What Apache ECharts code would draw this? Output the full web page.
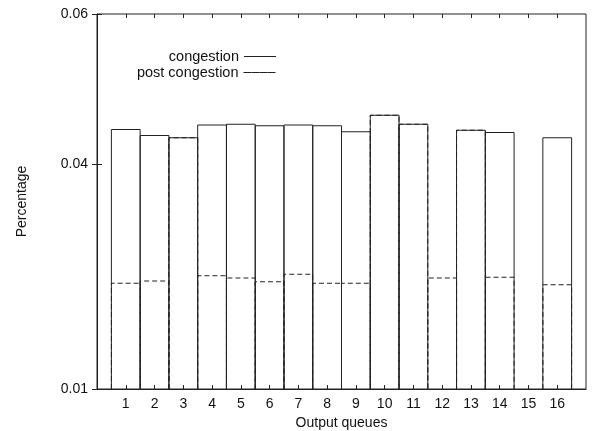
<!DOCTYPE html>
<html>
<head>
<meta charset="utf-8">
<script src="https://cdn.jsdelivr.net/npm/echarts@6/dist/echarts.min.js"></script>
<style>
    html, body { margin: 0; padding: 0; background: #fff; }
    #chart { width: 592px; height: 431px; }
</style>
</head>
<body>
<div id="chart"></div>
<script>
// === Données ===
const queues = [1, 2, 3, 4, 5, 6, 7, 8, 9, 10, 11, 12, 13, 14, 15, 16];
const congestion = [0.0446, 0.0438, 0.0435, 0.0452, 0.0453, 0.0451, 0.0452, 0.0451,
                    0.0443, 0.0465, 0.0453, null, 0.0445, 0.0442, null, 0.0435];
const postCongestion = [0.0241, 0.0244, 0.0435, 0.0251, 0.0248, 0.0243, 0.0253, 0.0241,
                        0.0241, 0.0465, 0.0453, 0.0248, 0.0445, 0.0249, null, 0.0239];
const yTicks = [0.01, 0.04, 0.06];
const xMin = 0, xMax = 17;
const yMin = 0.01, yMax = 0.06;

const chart = echarts.init(document.getElementById("chart"));

const ink = "#222";
const font = { fontFamily: "Liberation Sans", fontSize: 14, color: "#111" };

// une boîte (style gnuplot "boxes") par file de sortie
function boxes(dash) {
    return function (params, api) {
        const q = api.value(0);
        const v = api.value(1);
        if (isNaN(v)) return null;
        return {
            type: "polyline",
            shape: {
                points: [
                    api.coord([q - 0.5, yMin]),
                    api.coord([q - 0.5, v]),
                    api.coord([q + 0.5, v]),
                    api.coord([q + 0.5, yMin])
                ]
            },
            style: { fill: null, stroke: ink, lineWidth: 1, lineDash: dash }
        };
    };
}

const toPairs = vals => queues.map((q, i) => [q, vals[i]]).filter(d => d[1] != null);

const option = {
    animation: false,
    backgroundColor: "#fff",
    grid: {
        left: 97, right: 6, top: 14, bottom: 42,
        outerBoundsMode: "none",
        show: true, borderColor: ink, borderWidth: 1
    },
    legend: [
        {
            data: ["congestion"],
            right: 311, top: 44,
            align: "right",
            itemWidth: 32, itemHeight: 1,
            icon: "rect",
            itemStyle: { color: ink, borderWidth: 0 },
            textStyle: { ...font, fontSize: 14.5 },
            selectedMode: false
        },
        {
            data: ["post congestion"],
            right: 311, top: 60,
            align: "right",
            itemWidth: 32, itemHeight: 0,
            icon: "rect",
            itemStyle: { color: "transparent", borderColor: ink, borderWidth: 1, borderType: [5, 3] },
            textStyle: { ...font, fontSize: 14.5 },
            selectedMode: false
        }
    ],
    xAxis: [
        {
            type: "value", min: xMin, max: xMax,
            name: "Output queues", nameLocation: "middle", nameGap: 22,
            nameTextStyle: font,
            axisLine: { show: true, lineStyle: { color: ink } },
            axisTick: { inside: true, length: 4, customValues: queues, lineStyle: { color: ink } },
            axisLabel: { customValues: queues, margin: 8, ...font },
            splitLine: { show: false }
        },
        {
            type: "value", min: xMin, max: xMax, position: "top",
            axisLine: { show: false },
            axisTick: { inside: true, length: 4, customValues: queues, lineStyle: { color: ink } },
            axisLabel: { show: false },
            splitLine: { show: false }
        }
    ],
    yAxis: [
        {
            type: "value", min: yMin, max: yMax,
            name: "Percentage", nameLocation: "middle", nameGap: 68, nameRotate: 90,
            nameTextStyle: font,
            axisLine: { show: true, lineStyle: { color: ink } },
            axisTick: { inside: true, length: 5, customValues: yTicks, lineStyle: { color: ink } },
            axisLabel: { customValues: yTicks, margin: 9, formatter: v => v.toFixed(2), ...font },
            splitLine: { show: false }
        },
        {
            type: "value", min: yMin, max: yMax, position: "right",
            axisLine: { show: false },
            axisTick: { inside: true, length: 5, customValues: yTicks, lineStyle: { color: ink } },
            axisLabel: { show: false },
            splitLine: { show: false }
        }
    ],
    series: [
        {
            name: "congestion",
            type: "custom",
            renderItem: boxes(null),
            encode: { x: 0, y: 1 },
            itemStyle: { color: ink },
            data: toPairs(congestion)
        },
        {
            name: "post congestion",
            type: "custom",
            renderItem: boxes([5, 3]),
            encode: { x: 0, y: 1 },
            itemStyle: { color: ink },
            data: toPairs(postCongestion)
        }
    ]
};

chart.setOption(option);

window.addEventListener("resize", () => chart.resize());
</script>
</body>
</html>
